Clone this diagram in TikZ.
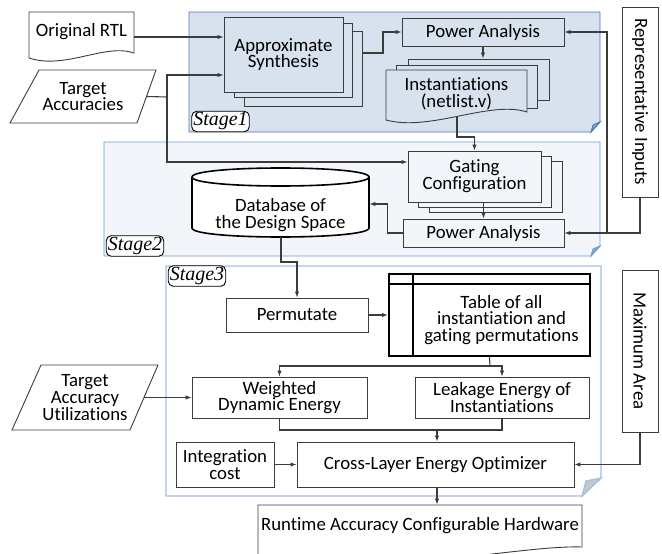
\documentclass[tikz,border=0pt]{standalone}
\usepackage{fontspec}
\setmainfont{Carlito}[Ligatures=NoCommon]
\newfontfamily\stagefont{Liberation Serif}
\usetikzlibrary{arrows.meta}
\definecolor{linegray}{HTML}{3C3C3C}
\definecolor{sonefill}{HTML}{D8E1EE}
\definecolor{soneline}{HTML}{4F76AE}
\definecolor{sonefold}{HTML}{8CA6CE}
\definecolor{stwofill}{HTML}{F2F6FB}
\definecolor{stwoline}{HTML}{6F9AD2}
\definecolor{sthreeline}{HTML}{A3C0E6}

\begin{document}
\begin{tikzpicture}[x=1pt, y=-1pt, line width=0.9pt, font=\fontsize{18.8}{16.8}\selectfont,
    box/.style = {draw=linegray, fill=white, align=center, inner sep=1pt},
    side/.style = {draw=linegray, fill=white, rotate=-90, minimum height=36},
    stagebox/.style = {draw=black, fill=white, rounded corners=5pt, inner sep=1.5pt, font=\stagefont\itshape\fontsize{20}{20}\selectfont},
    arr/.style = {draw=linegray, line width=1.1pt, -{Latex[length=6pt,width=4.5pt]}},
    wire/.style = {draw=linegray, line width=1.1pt}]
    \useasboundingbox (0,0) rectangle (662,554);

    \draw[draw=soneline, fill=sonefill] (189,12) -- (600,12) -- (600,122) -- (591,132) -- (189,132) -- cycle;
    \draw[draw=soneline, fill=sonefold] (600,122) -- (591,132) -- (593,125) -- cycle;
    \node[stagebox] (s1) at (220.5,121.5) {Stage1};
    \draw[draw=stwoline, fill=stwofill] (104,142) -- (600,142) -- (600,246) -- (591,256) -- (104,256) -- cycle;
    \draw[draw=stwoline, fill=sonefold] (600,246) -- (591,256) -- (593,249) -- cycle;
    \node[stagebox] (s2) at (135,246) {Stage2};
    \draw[draw=sthreeline, line width=1.3pt, fill=white] (166,266) -- (601,266) -- (601,478) -- (582,496) -- (166,496) -- cycle;
    \draw[draw=sthreeline, line width=1.3pt, fill=black!22] (601,478) -- (582,496) -- (586,481) -- cycle;
    \node[stagebox] (s3) at (197,276) {Stage3};

    \draw[draw=linegray, fill=white] (29,12) -- (134,12) -- (134,53) .. controls (105,43) and (65,70) .. (29,58) -- cycle;
    \node[minimum width=105, minimum height=40] (rtl) at (81.5,32) {Original RTL};
    \draw[draw=linegray, fill=white] (39,70) -- (156,70) -- (137,123) -- (10,123) -- cycle;
    \node[align=center, minimum width=127] (ta) at (83,96.5) {Target\\Accuracies};
    \draw[draw=linegray, fill=white] (41,365) -- (158,365) -- (130,430) -- (12,430) -- cycle;
    \node[align=center, minimum width=118] (tau) at (85,397.5) {Target\\Accuracy\\Utilizations};

    \node[box, fill=sonefill, minimum width=118, minimum height=75] (as3) at (303,68.5) {};
    \node[box, fill=sonefill, minimum width=118, minimum height=74] (as2) at (293,60) {};
    \node[box, fill=sonefill, minimum width=119, minimum height=75] (as) at (283.5,54.5) {Approximate\\Synthesis};
    \node[box, fill=sonefill, minimum width=162, minimum height=28] (pa1) at (483,32) {Power Analysis};
    \node[box, fill=sonefill, minimum width=141, minimum height=41] (inst3) at (478.5,79.5) {};
    \node[box, fill=sonefill, minimum width=141, minimum height=43] (inst2) at (466.5,86.5) {};
    \draw[draw=linegray, fill=sonefill] (386,70) -- (527,70) -- (527,112) .. controls (490,100) and (430,132) .. (386,120) -- cycle;
    \node[align=center, minimum width=141] (inst) at (456.5,93.5) {Instantiations\\(netlist.v)};

    \node[box, fill=stwofill, minimum width=133, minimum height=51] (gc3) at (495.5,186.5) {};
    \node[box, fill=stwofill, minimum width=133, minimum height=51] (gc2) at (485,181.5) {};
    \node[box, fill=stwofill, minimum width=133, minimum height=51] (gc) at (474.5,176.5) {Gating\\Configuration};
    \node[box, fill=stwofill, minimum width=161, minimum height=28] (pa2) at (483.5,233) {Power Analysis};
    \draw[draw=black, line width=1.6pt, fill=white] (192,177) -- (192,228) .. controls (192,240) and (369,240) .. (369,228) -- (369,177);
    \draw[draw=black, line width=1.6pt, fill=white] (192,177) .. controls (192,165) and (369,165) .. (369,177) .. controls (369,189) and (192,189) .. (192,177);
    \node[align=center, minimum width=177] (db) at (280.5,215) {Database of\\the Design Space};
    \coordinate (dbB) at (281,237);

    \node[side, minimum width=190] (ri) at (640,102) {Representative Inputs};
    \node[side, minimum width=162] (ma) at (640,351) {Maximum Area};

    \node[box, minimum width=142, minimum height=34] (pm) at (297,315) {Permutate};
    \node[draw=black, line width=2pt, minimum width=201, minimum height=82] (tbl) at (489.5,315) {};
    \draw[line width=2pt] (389,284) -- (590,284) (413,274) -- (413,356);
    \node[align=center] (tbltext) at (501.5,320) {Table of all\\instantiation and\\gating permutations};
    \node[box, minimum width=175, minimum height=41] (wd) at (279.5,397.5) {Weighted\\Dynamic Energy};
    \node[box, minimum width=174, minimum height=41] (le) at (502,397.5) {Leakage Energy of\\Instantiations};
    \node[box, minimum width=98, minimum height=45] (ic) at (225,464.5) {Integration\\cost};
    \node[box, minimum width=277, minimum height=45] (cl) at (435.5,464.5) {Cross-Layer Energy Optimizer};
    \draw[draw=linegray, fill=white] (258,505) -- (582,505) -- (582,547) .. controls (520,545) and (400,575) .. (258,562) -- cycle;
    \node[minimum width=324, minimum height=42] (hw) at (420,526) {Runtime Accuracy Configurable Hardware};

    \coordinate (tj) at (167,97);
    \coordinate (rj) at (607,233);
    \coordinate (tj2) at (490,366);
    \coordinate (tj3) at (437,430);
    \draw[arr] (rtl.east |- 0,37) -- (as.west |- 0,37);
    \draw[wire] (ta.east) -- (tj);
    \draw[arr] (tj) |- (as.west |- 0,75);
    \draw[arr] (tj) |- (gc.west |- 0,162);
    \draw[arr] (as3.east |- 0,53) -- (383,53) |- (pa1.west);
    \draw[arr] (pa1.south) -- (pa1.south |- inst3.north);
    \draw[arr] (457,116) |- (466,137) -| (gc.north);
    \draw[arr] (gc.south -| pa2.north) -- (pa2.north);
    \draw[arr] (pa2.west) -- ++(-15,0) |- (db.east |- 0,204);
    \draw[arr] (ri.east) |- (pa2.east);
    \draw[arr] (rj) |- (pa1.east);
    \draw[arr] (dbB) |- (289,262) -| (pm.north);
    \draw[arr] (pm.east) -- (pm.east -| tbl.west);
    \draw[wire] (tbl.south) -- (tj2);
    \draw[arr] (tj2) -| (wd.north);
    \draw[arr] (tj2) -| (le.north);
    \draw[arr] (tau.east) -- (wd.west);
    \draw[wire] (wd.south) |- (tj3);
    \draw[wire] (le.south) |- (tj3);
    \draw[arr] (tj3) -- (tj3 |- cl.north);
    \draw[arr] (ic.east) -- (cl.west);
    \draw[arr] (ma.east) |- (cl.east);
    \draw[arr] (cl.south -| tj3) -- (tj3 |- hw.north);
\end{tikzpicture}
\end{document}
